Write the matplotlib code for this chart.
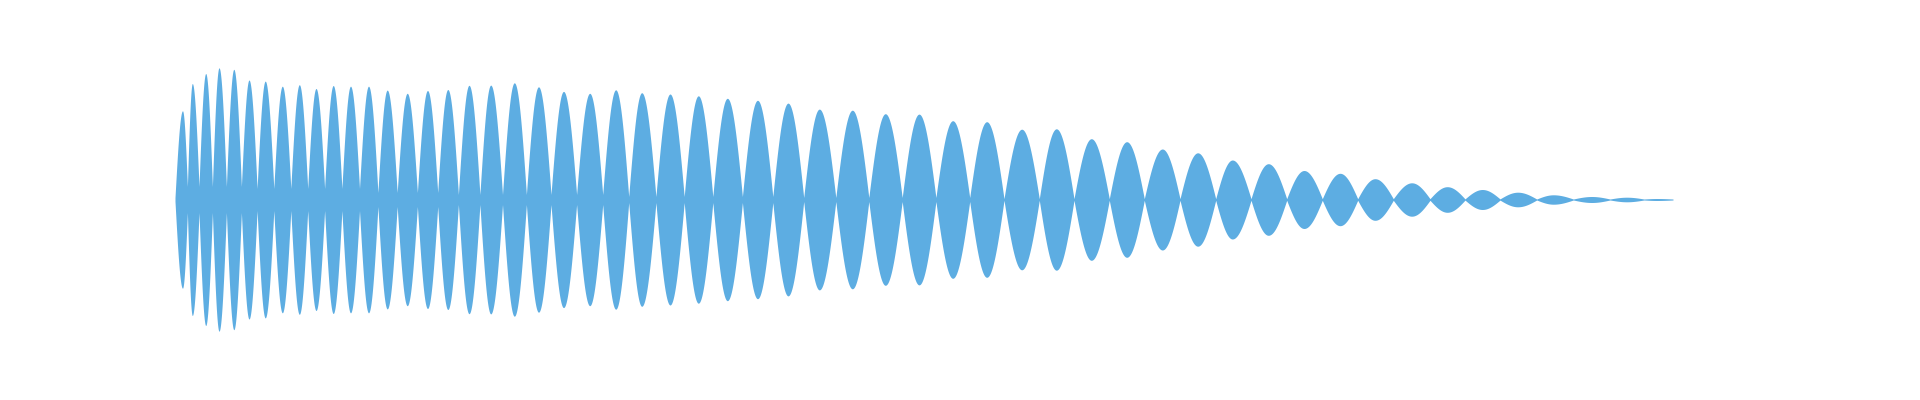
import numpy as np
import matplotlib
matplotlib.use("Agg")
import matplotlib.pyplot as plt

# lobe peaks of the waveform envelope (position, amplitude)
peak_pos = [182.5, 192.3, 205.7, 219.0, 233.8, 249.0, 265.2, 282.3, 299.3, 316.0,
            333.2, 350.5, 368.5, 387.2, 407.2, 427.5, 447.8, 469.0, 490.7, 514.3,
            538.5, 563.5, 589.7, 615.7, 641.7, 670.0, 698.3, 727.3, 757.5, 788.0,
            819.3, 852.3, 885.3, 919.0, 952.7, 986.7, 1021.7, 1056.3, 1091.3, 1126.7,
            1162.3, 1197.7, 1232.3, 1268.3, 1304.0, 1340.0, 1375.0, 1411.7, 1447.2, 1482.3,
            1517.7, 1553.3, 1591.7, 1626.7, 1656.7]
peak_amp = [88.7, 116.0, 126.0, 131.7, 130.2, 119.5, 118.4, 113.3, 114.8, 111.0,
            114.0, 113.3, 113.3, 109.4, 106.2, 109.0, 110.0, 114.2, 114.4, 116.7,
            112.7, 108.1, 106.2, 109.7, 106.8, 105.5, 103.7, 101.2, 99.2, 96.4,
            90.4, 89.3, 85.8, 85.4, 78.8, 77.8, 70.3, 70.7, 60.8, 57.8,
            50.5, 46.7, 39.5, 35.8, 29.0, 26.2, 20.8, 16.7, 12.8, 10.0,
            7.3, 4.7, 3.0, 2.3, 1.0]

# valleys between lobes (start, in-between, end)
valley_pos = [175.0, 187.4, 199.0, 212.4, 226.4, 241.4, 257.1, 273.8, 290.8, 307.7,
              324.6, 341.9, 359.5, 377.9, 397.2, 417.4, 437.7, 458.4, 479.9, 502.5,
              526.4, 551.0, 576.6, 602.7, 628.7, 655.9, 684.2, 712.8, 742.4, 772.8,
              803.7, 835.8, 868.8, 902.2, 935.9, 969.7, 1004.0, 1039.3, 1074.0, 1109.3,
              1144.3, 1180.0, 1215.7, 1251.0, 1286.7, 1322.3, 1357.7, 1393.3, 1430.0, 1465.0,
              1500.0, 1536.7, 1573.3, 1610.0, 1644.0, 1673.0]
valley_amp = [2.0, 13.0, 13.0, 13.0, 13.0, 13.0, 11.0, 11.0, 11.0, 11.0,
              11.0, 11.0, 11.0, 7.0, 7.0, 7.0, 7.0, 5.0, 5.0, 5.0,
              5.0, 5.0, 5.0, 5.0, 3.0, 3.0, 3.0, 3.0, 3.0, 3.0,
              2.0, 2.0, 2.0, 2.0, 2.0, 2.0, 0.8, 0.8, 0.8, 0.8,
              0.8, 0.8, 0.8, 0.8, 0.8, 0.8, 0.8, 0.8, 0.8, 0.6,
              0.6, 0.5, 0.5, 0.5, 0.5, 0.5]

color = '#5DADE2'

fig = plt.figure(figsize=(19.2, 4), dpi=100)
ax = fig.add_axes([0, 0, 1, 1])

# each half lobe: pointed at the valley, rounded at the peak
u = np.linspace(0, 1, 30)
xs, env = [], []
for i in range(len(peak_pos)):
    v0, v1 = valley_pos[i], valley_pos[i + 1]
    a0, a1 = valley_amp[i], valley_amp[i + 1]
    p, a = peak_pos[i], peak_amp[i]
    xs.append(v0 + (p - v0) * u)
    env.append(a0 + (a - a0) * np.sin(np.pi / 2 * u))
    xs.append(p + (v1 - p) * u)
    env.append(a1 + (a - a1) * np.cos(np.pi / 2 * u))
xs = np.concatenate(xs)
env = np.concatenate(env)

ax.fill_between(xs, -env, env, color=color, linewidth=0)

ax.set_xlim(0, 1920)
ax.set_ylim(-200.5, 199.5)
ax.axis('off')

fig.savefig('out.png', dpi=100, facecolor='white')
